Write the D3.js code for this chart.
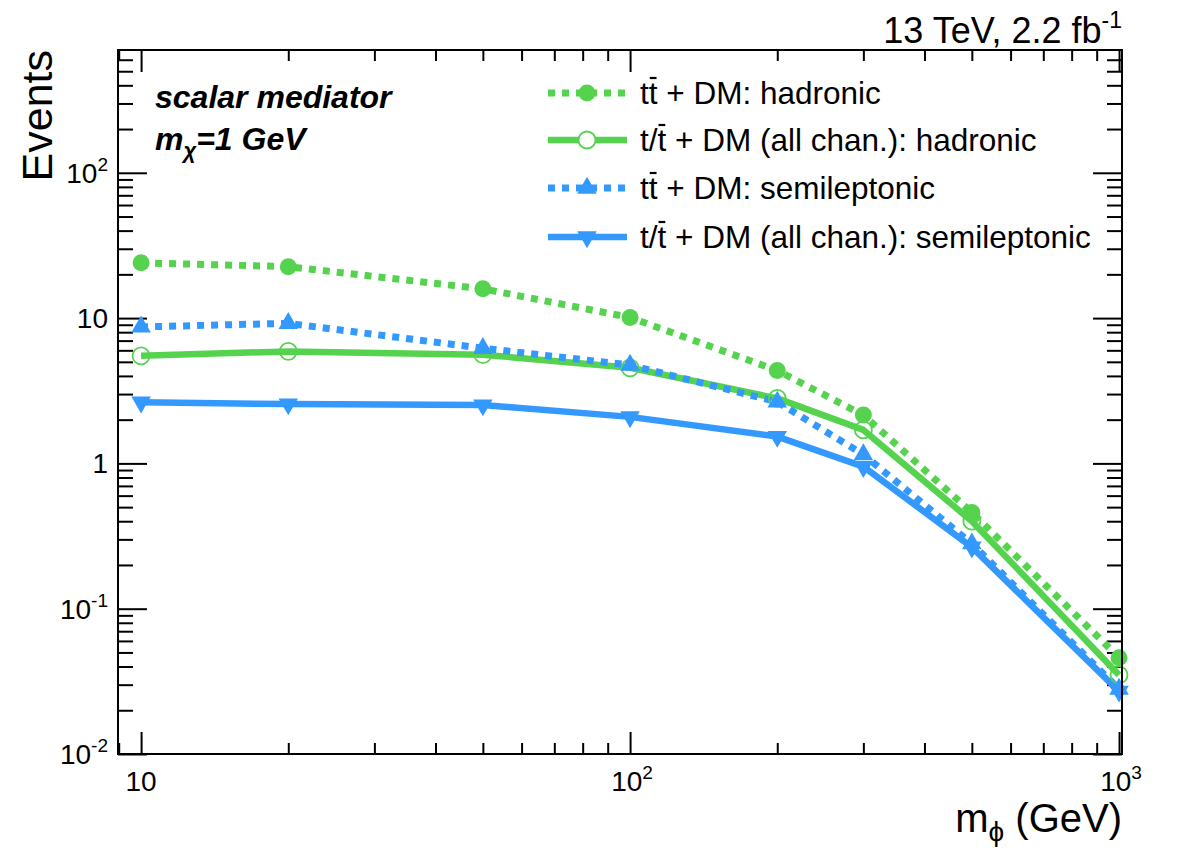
<!DOCTYPE html>
<html>
<head>
<meta charset="utf-8">
<script src="https://cdn.jsdelivr.net/npm/d3@7"></script>
<style>
  body { margin: 0; background: #fff; }
  text { font-family: "Liberation Sans", Arial, Helvetica, sans-serif; }
</style>
</head>
<body>
<svg id="chart" width="1182" height="848"></svg>
<script>
// mediator masses (GeV)
const massPoints = [10, 20, 50, 100, 200, 300, 500, 1000];

// expected events per channel
const ttHadronic = [24.0, 22.6, 15.9, 10.1, 4.36, 2.15, 0.46, 0.046];
const allHadronic = [5.5, 5.9, 5.6, 4.55, 2.8, 1.70, 0.40, 0.035];
const ttSemilep = [8.7, 9.2, 6.2, 4.75, 2.65, 1.15, 0.28, 0.028];
const allSemilep = [2.64, 2.56, 2.52, 2.09, 1.53, 0.95, 0.265, 0.027];

const legendLabels = [
    ["t", "t", " + DM: hadronic"],
    ["t/", "t", " + DM (all chan.): hadronic"],
    ["t", "t", " + DM: semileptonic"],
    ["t/", "t", " + DM (all chan.): semileptonic"]
];

const xMajor = [10, 100, 1000];
const yMajor = [0.01, 0.1, 1, 10, 100];
const yTickLabels = [["10", "-2"], ["10", "-1"], ["1", ""], ["10", ""], ["10", "2"]];
const xTickLabels = [["10", ""], ["10", "2"], ["10", "3"]];

const green = "#55d34f";
const blue = "#3399ff";

const series = [
    {values: allHadronic, color: green, dashed: false, marker: "openCircle"},
    {values: allSemilep, color: blue, dashed: false, marker: "down"},
    {values: ttHadronic, color: green, dashed: true, marker: "circle"},
    {values: ttSemilep, color: blue, dashed: true, marker: "up"}
];
// legend order differs from draw order
const legendSeries = [series[2], series[0], series[3], series[1]];

let width = 1182;
let height = 848;
let margin = {left: 118, top: 50, right: 60, bottom: 94};
let plotW = width - margin.left - margin.right;
let plotH = height - margin.top - margin.bottom;

let svg = d3.select('#chart');
let g = svg.append('g').attr('transform', 'translate(' + margin.left + ',' + margin.top + ')');

var x = d3.scaleLog().domain([8.97, 1014]).range([0, plotW]);
var y = d3.scaleLog().domain([0.01, 700]).range([plotH, 0]);

// minor ticks (2..9 per decade)
function minorTicks(lo, hi) {
    let out = [];
    for (let e = Math.floor(Math.log10(lo)); e <= Math.ceil(Math.log10(hi)); e++) {
        for (let k = 2; k <= 9; k++) {
            let v = k * Math.pow(10, e);
            if (v > lo && v < hi) out.push(v);
        }
    }
    return out;
}
let xMinor = minorTicks(8.97, 1014);
let yMinor = minorTicks(0.01, 700);

function tickAxis(axisFn, scale, values, size, transform) {
    g.append('g')
        .attr('transform', transform)
        .call(axisFn(scale).tickValues(values).tickSize(size).tickFormat(''))
        .call(s => s.select('.domain').remove())
        .call(s => s.selectAll('line').attr('stroke', '#000').attr('stroke-width', 2));
}
// ticks point inward on all four sides
tickAxis(d3.axisTop, x, xMajor, 22, 'translate(0,' + plotH + ')');
tickAxis(d3.axisTop, x, xMinor, 11, 'translate(0,' + plotH + ')');
tickAxis(d3.axisBottom, x, xMajor, 22, 'translate(0,0)');
tickAxis(d3.axisBottom, x, xMinor, 11, 'translate(0,0)');
tickAxis(d3.axisRight, y, yMajor, 29, 'translate(0,0)');
tickAxis(d3.axisRight, y, yMinor, 15, 'translate(0,0)');
tickAxis(d3.axisLeft, y, yMajor, 29, 'translate(' + plotW + ',0)');
tickAxis(d3.axisLeft, y, yMinor, 15, 'translate(' + plotW + ',0)');

// series lines
let line = d3.line()
    .x((d, i) => x(massPoints[i]))
    .y(d => y(d));

series.forEach(s => {
    g.append('path')
        .datum(s.values)
        .attr('d', line)
        .attr('fill', 'none')
        .attr('stroke', s.color)
        .attr('stroke-width', s.dashed ? 7 : 6.5)
        .attr('stroke-dasharray', s.dashed ? '7,7' : null)
        .attr('stroke-linejoin', 'round');
});

function drawMarker(sel, kind, color) {
    if (kind === 'circle') {
        sel.append('circle').attr('r', 8.5).attr('fill', color);
    } else if (kind === 'openCircle') {
        sel.append('circle').attr('r', 8.5).attr('fill', 'none').attr('stroke', color).attr('stroke-width', 1.8);
    } else {
        let p = sel.append('path')
            .attr('d', d3.symbol().type(d3.symbolTriangle).size(165)())
            .attr('fill', color);
        if (kind === 'down') p.attr('transform', 'rotate(180)');
    }
}

series.forEach(s => {
    s.values.forEach((v, i) => {
        let m = g.append('g').attr('transform', 'translate(' + x(massPoints[i]) + ',' + y(v) + ')');
        drawMarker(m, s.marker, s.color);
    });
});

// frame
g.append('rect')
    .attr('width', plotW).attr('height', plotH)
    .attr('fill', 'none').attr('stroke', '#000').attr('stroke-width', 2);

// tick labels
function powLabel(parent, base, exp, fs) {
    parent.append('tspan').text(base);
    if (exp) parent.append('tspan').attr('font-size', fs * 0.68).attr('dy', -fs * 0.42).text(exp);
}
xMajor.forEach((v, i) => {
    let t = g.append('text')
        .attr('x', x(v) + (xTickLabels[i][1] ? 2 : 0))
        .attr('y', plotH + 37)
        .attr('text-anchor', 'middle')
        .attr('font-size', 28);
    powLabel(t, xTickLabels[i][0], xTickLabels[i][1], 28);
});
yMajor.forEach((v, i) => {
    let t = g.append('text')
        .attr('x', -10)
        .attr('y', y(v) + 10)
        .attr('text-anchor', 'end')
        .attr('font-size', 28);
    powLabel(t, yTickLabels[i][0], yTickLabels[i][1], 28);
});

// axis titles
svg.append('text')
    .attr('transform', 'translate(52,' + margin.top + ') rotate(-90)')
    .attr('text-anchor', 'end')
    .attr('font-size', 43)
    .text('Events');

let xt = svg.append('text')
    .attr('x', margin.left + plotW)
    .attr('y', 832)
    .attr('text-anchor', 'end')
    .attr('font-size', 40);
xt.append('tspan').text('m');
xt.append('tspan').attr('font-size', 28).attr('dy', 9).text('ϕ');
xt.append('tspan').attr('dy', -9).text(' (GeV)');

// luminosity label
let lumi = svg.append('text')
    .attr('x', margin.left + plotW)
    .attr('y', 43)
    .attr('text-anchor', 'end')
    .attr('font-size', 36);
lumi.append('tspan').text('13 TeV, 2.2 fb');
lumi.append('tspan').attr('font-size', 23).attr('dy', -15).text('-1');

// model labels
svg.append('text')
    .attr('x', 155).attr('y', 108)
    .attr('font-size', 32).attr('font-weight', 'bold').attr('font-style', 'italic')
    .text('scalar mediator');
let mchi = svg.append('text')
    .attr('x', 155).attr('y', 150)
    .attr('font-size', 32).attr('font-weight', 'bold').attr('font-style', 'italic');
mchi.append('tspan').text('m');
mchi.append('tspan').attr('font-size', 22).attr('dy', 8).text('χ');
mchi.append('tspan').attr('dy', -8).text('=1 GeV');

// legend
let legendY = [93, 140, 188, 237];
legendSeries.forEach((s, i) => {
    let ly = legendY[i];
    let row = svg.append('g');
    row.append('line')
        .attr('x1', 548).attr('x2', 627).attr('y1', ly).attr('y2', ly)
        .attr('stroke', s.color)
        .attr('stroke-width', s.dashed ? 7 : 6.5)
        .attr('stroke-dasharray', s.dashed ? '7,7' : null);
    let m = row.append('g').attr('transform', 'translate(587,' + ly + ')');
    if (s.marker === 'openCircle') {
        m.append('circle').attr('r', 8.5).attr('fill', '#fff');
    }
    drawMarker(m, s.marker, s.color);

    let t = row.append('text')
        .attr('x', 640).attr('y', ly + 11)
        .attr('font-size', 31.5);
    let lab = legendLabels[i];
    t.append('tspan').text(lab[0]);
    t.append('tspan').text(lab[1]);
    t.append('tspan').text(lab[2]);
    // overline on the anti-top
    let idx = lab[0].length;
    let ext = t.node().getExtentOfChar(idx);
    row.append('line')
        .attr('x1', ext.x + 1).attr('x2', ext.x + ext.width - 1)
        .attr('y1', ext.y + 3).attr('y2', ext.y + 3)
        .attr('stroke', '#000').attr('stroke-width', 2.2);
});
</script>
</body>
</html>
